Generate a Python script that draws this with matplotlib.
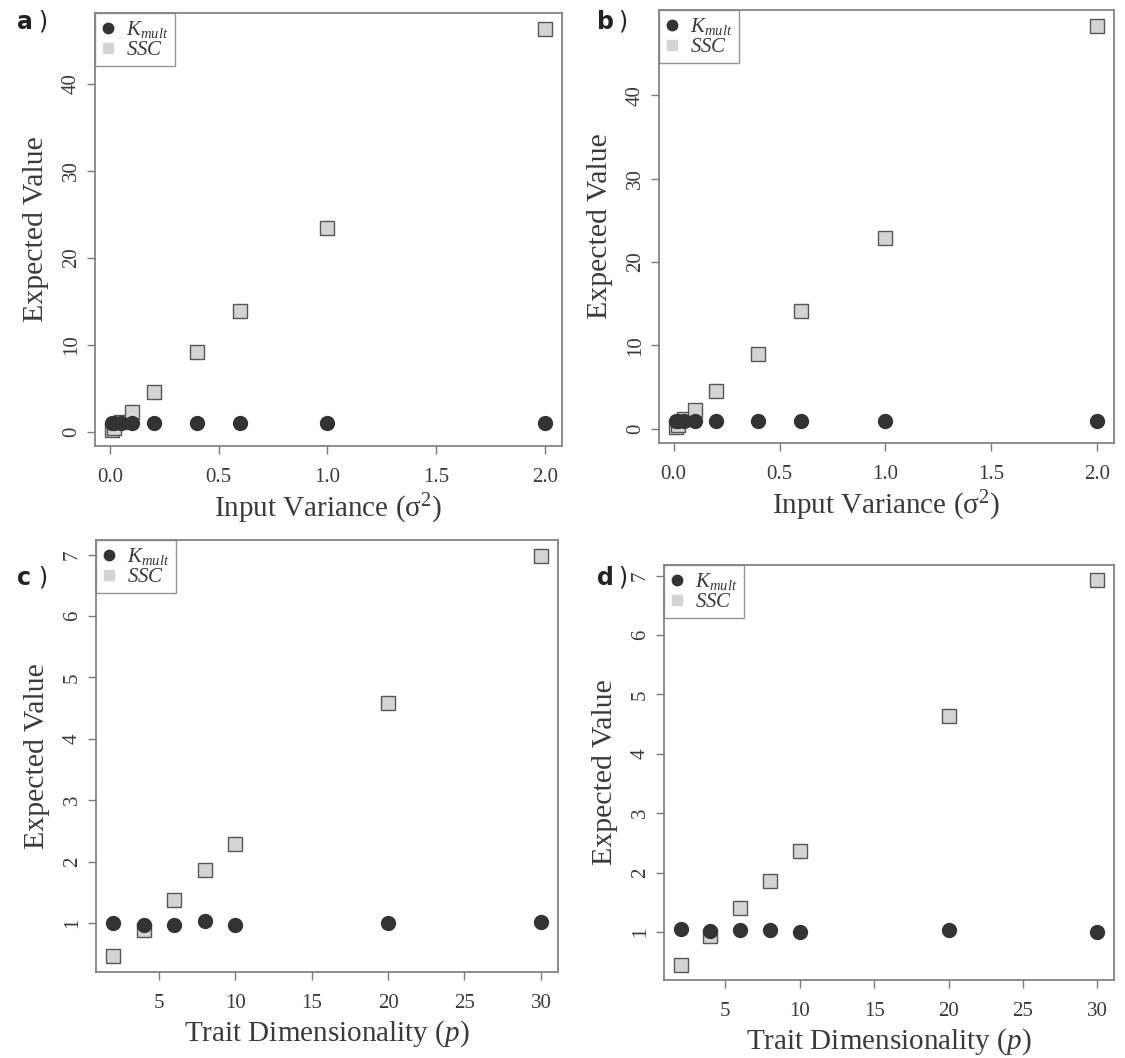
import numpy as np
import matplotlib
matplotlib.use("Agg")
import matplotlib.pyplot as plt

W, H = 1125, 1058

# data
sigma2 = [0.01, 0.02, 0.05, 0.1, 0.2, 0.4, 0.6, 1.0, 2.0]
kmult_a = [1.0, 1.0, 1.0, 1.0, 1.0, 1.0, 1.0, 1.0, 1.0]
ssc_a = [0.23, 0.47, 1.15, 2.3, 4.6, 9.2, 13.9, 23.4, 46.3]
kmult_b = [1.0, 1.0, 1.0, 1.0, 1.0, 0.95, 1.0, 1.0, 1.0]
ssc_b = [0.23, 0.47, 1.15, 2.3, 4.6, 9.0, 14.1, 22.9, 48.3]

p_dim = [2, 4, 6, 8, 10, 20, 30]
kmult_c = [0.99, 0.96, 0.96, 1.03, 0.96, 1.0, 1.02]
ssc_c = [0.46, 0.89, 1.37, 1.86, 2.28, 4.58, 6.98]
kmult_d = [1.05, 1.02, 1.03, 1.03, 1.0, 1.03, 1.0]
ssc_d = [0.45, 0.93, 1.41, 1.86, 2.37, 4.63, 6.92]

panels = [
    ("a", sigma2, kmult_a, ssc_a, (95, 13, 562, 446), [0, 0.5, 1.0, 1.5, 2.0], [0, 10, 20, 30, 40], "Input Variance (σ$^2$)"),
    ("b", sigma2, kmult_b, ssc_b, (659, 10, 1114, 443), [0, 0.5, 1.0, 1.5, 2.0], [0, 10, 20, 30, 40], "Input Variance (σ$^2$)"),
    ("c", p_dim, kmult_c, ssc_c, (96, 540, 558, 972), [5, 10, 15, 20, 25, 30], [1, 2, 3, 4, 5, 6, 7], "Trait Dimensionality ($p$)"),
    ("d", p_dim, kmult_d, ssc_d, (664, 565, 1114, 980), [5, 10, 15, 20, 25, 30], [1, 2, 3, 4, 5, 6, 7], "Trait Dimensionality ($p$)"),
]

plt.rcParams['font.family'] = ['Liberation Serif', 'DejaVu Serif']
plt.rcParams['mathtext.fontset'] = 'custom'
plt.rcParams['mathtext.rm'] = 'Liberation Serif'
plt.rcParams['mathtext.it'] = 'Liberation Serif:italic'

spine_col = '#7a7a7a'
text_col = '#3a3a3a'
dark = '#333333'
light = '#d4d4d4'

fig = plt.figure(figsize=(W / 100, H / 100), dpi=100)

for lab, x, k, s, box, xt, yt, xlab in panels:
    x0, y0, x1, y1 = box
    ax = fig.add_axes([x0 / W, 1 - y1 / H, (x1 - x0) / W, (y1 - y0) / H])
    ax.plot(x, s, 's', ms=9.5, mfc=light, mec='#555555', mew=1.0, label='$SSC$', zorder=2)
    ax.plot(x, k, 'o', ms=10, color=dark, label=r'$K_{mult}$', zorder=3)
    ax.margins(0.04)
    ax.set_xticks(xt)
    ax.set_yticks(yt)
    if lab in "ab":
        ax.set_xticklabels(["%.1f" % v for v in xt])
    ax.tick_params(colors=spine_col, labelcolor=text_col, labelsize=15, length=6, width=1, pad=4)
    ax.tick_params(axis='x', pad=10)
    for lbl in ax.get_yticklabels():
        lbl.set_rotation(90)
        lbl.set_va('center')
    for sp in ax.spines.values():
        sp.set_color(spine_col)
        sp.set_linewidth(1.2)

    h, l = ax.get_legend_handles_labels()
    leg = ax.legend(h[::-1], l[::-1], loc='upper left', bbox_to_anchor=(0, 1), borderaxespad=0,
                    fontsize=15, frameon=True, fancybox=False, handlelength=0.6, handletextpad=0.6,
                    labelspacing=0.0, borderpad=0.3, markerscale=0.75)
    leg.get_frame().set_edgecolor(spine_col)
    leg.get_frame().set_linewidth(1.0)
    for t in leg.get_texts():
        t.set_color(text_col)
    leg.legend_handles[1].set_markeredgecolor(light)

    ax.set_xlabel(xlab, fontsize=21, color=text_col)
    ax.xaxis.set_label_coords(0.5, -46 / (y1 - y0))
    ax.set_ylabel("Expected Value", fontsize=21.5, color=text_col)
    ax.yaxis.set_label_coords(-46 / (x1 - x0), 0.5)

    lx = 17 if lab in "ac" else 597
    ly = 22 if lab in "ab" else 578
    fig.text(lx / W, 1 - ly / H, lab, fontsize=17, fontweight='bold', family='DejaVu Sans',
             color='#222222', va='center', ha='left')
    fig.text((lx + 21) / W, 1 - ly / H, ")", fontsize=17, family='DejaVu Sans',
             color='#222222', va='center', ha='left')

fig.savefig("out.png", dpi=100)
